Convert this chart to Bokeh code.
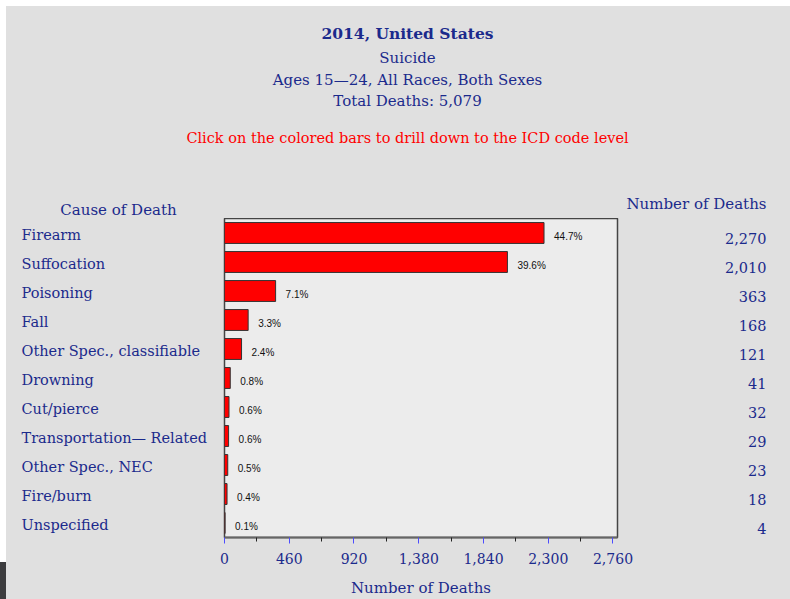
from bokeh.plotting import figure
from bokeh.models import (ColumnDataSource, LabelSet, Label, Range1d, FactorRange,
                          FixedTicker, NumeralTickFormatter, Spacer)
from bokeh.layouts import column, row
from bokeh.core.properties import value
from bokeh.embed import file_html
from bokeh.resources import INLINE

causes = ["Firearm", "Suffocation", "Poisoning", "Fall", "Other Spec., classifiable",
          "Drowning", "Cut/pierce", "Transportation\u2014 Related", "Other Spec., NEC",
          "Fire/burn", "Unspecified"]
deaths = [2270, 2010, 363, 168, 121, 41, 32, 29, 23, 18, 4]
percents = ["44.7%", "39.6%", "7.1%", "3.3%", "2.4%", "0.8%", "0.6%", "0.6%", "0.5%", "0.4%", "0.1%"]
tick_vals = [0, 460, 920, 1380, 1840, 2300, 2760]
minor_vals = [230, 690, 1150, 1610, 2070, 2530]
title_lines = ["2014, United States", "Suicide", "Ages 15\u201424, All Races, Both Sexes",
               "Total Deaths: 5,079"]
note = "Click on the colored bars to drill down to the ICD code level"
left_header = "Cause of Death"
right_header = "Number of Deaths"

NAVY = "#1b2a8c"
BG = "#e0e0e0"
SERIF = "DejaVu Serif"
GREY_STYLE = {"background-color": BG}

src = ColumnDataSource(dict(
    cause=causes, deaths=deaths, pct=percents,
    dtext=[f"{d:,}" for d in deaths],
))

yr = FactorRange(factors=list(reversed(causes)), range_padding=0)


def side_fig(w):
    f = figure(output_backend="svg", toolbar_location=None,
               frame_width=w, frame_height=319,
               min_border_left=0, min_border_right=0,
               min_border_top=0, min_border_bottom=62,
               x_range=Range1d(0, w), y_range=yr,
               x_axis_location=None, y_axis_location=None)
    f.background_fill_color = None
    f.border_fill_color = None
    f.outline_line_color = None
    f.grid.visible = False
    return f


# ---- main bar chart ----
p = figure(output_backend="svg", toolbar_location=None,
           frame_width=393, frame_height=319,
           min_border_left=10, min_border_right=20,
           min_border_top=0, min_border_bottom=62,
           x_range=Range1d(0, 2792), y_range=yr,
           y_axis_location=None)
p.background_fill_color = "#ececec"
p.border_fill_color = None
p.outline_line_color = "#444444"
p.outline_line_width = 1.5
p.grid.visible = False

p.hbar(y="cause", right="deaths", left=0, height=0.72, source=src,
       fill_color="#ff0000", line_color="#333333", line_width=1)

ax = p.xaxis[0]
ax.ticker = FixedTicker(ticks=tick_vals, minor_ticks=minor_vals)
ax.formatter = NumeralTickFormatter(format="0,0")
ax.major_tick_line_color = "#4d4dff"
ax.major_tick_out = 6
ax.major_tick_in = 0
ax.minor_tick_line_color = "#222222"
ax.minor_tick_out = 4
ax.minor_tick_in = 0
ax.axis_line_color = "#666666"
ax.axis_line_width = 2
ax.major_label_text_font = SERIF
ax.major_label_text_font_size = "14px"
ax.major_label_text_color = NAVY
ax.major_label_standoff = 9
ax.axis_label = "Number of Deaths"
ax.axis_label_text_font = SERIF
ax.axis_label_text_font_size = "15px"
ax.axis_label_text_font_style = "normal"
ax.axis_label_text_color = NAVY
ax.axis_label_standoff = 12

p.add_layout(LabelSet(x="deaths", y="cause", text="pct", source=src,
                      x_offset=10, y_offset=-3, text_font=value("Liberation Sans"),
                      text_font_size="10px", text_color="#111111",
                      text_baseline="middle", text_align="left"))

# ---- category names (left) ----
pl = side_fig(208)
pl.add_layout(LabelSet(x=15, y="cause", text="cause", source=src,
                       y_offset=-2, text_font=value(SERIF), text_font_size="14.5px",
                       text_color=NAVY, text_baseline="middle", text_align="left"))

# ---- death counts (right) ----
pr = side_fig(153)
pr.add_layout(LabelSet(x=129, y="cause", text="dtext", source=src,
                       y_offset=-5, text_font=value(SERIF), text_font_size="14.5px",
                       text_color=NAVY, text_baseline="middle", text_align="right"))

# ---- header block ----
ph = figure(output_backend="svg", toolbar_location=None,
            frame_width=784, frame_height=212, min_border=0,
            x_range=Range1d(0, 784), y_range=Range1d(212, 0),
            x_axis_location=None, y_axis_location=None)
ph.background_fill_color = None
ph.border_fill_color = None
ph.outline_line_color = None
ph.grid.visible = False

title_y = [27, 51, 73, 94]
title_sizes = ["15.5px", "15px", "15px", "15px"]
for i, t in enumerate(title_lines):
    ph.add_layout(Label(x=401, y=title_y[i], text=t,
                        text_font=SERIF, text_font_size=title_sizes[i], text_color=NAVY,
                        text_font_style="bold" if i == 0 else "normal",
                        text_align="center", text_baseline="middle"))
ph.add_layout(Label(x=401, y=131, text=note,
                    text_font=SERIF, text_font_size="14.5px", text_color="#ff0000",
                    text_align="center", text_baseline="middle"))
ph.add_layout(Label(x=112, y=203, text=left_header,
                    text_font=SERIF, text_font_size="15px", text_color=NAVY,
                    text_align="center", text_baseline="middle"))
ph.add_layout(Label(x=760, y=197, text=right_header,
                    text_font=SERIF, text_font_size="15px", text_color=NAVY,
                    text_align="right", text_baseline="middle"))

left_strip = column(Spacer(width=6, height=556),
                    Spacer(width=6, height=37, styles={"background-color": "#3c3c3e"}))
mid = row(pl, p, pr, styles=GREY_STYLE)
body = column(ph, mid, styles=GREY_STYLE)
layout = column(Spacer(width=790, height=6), row(left_strip, body))

open("out.html", "w").write(file_html(layout, INLINE))
